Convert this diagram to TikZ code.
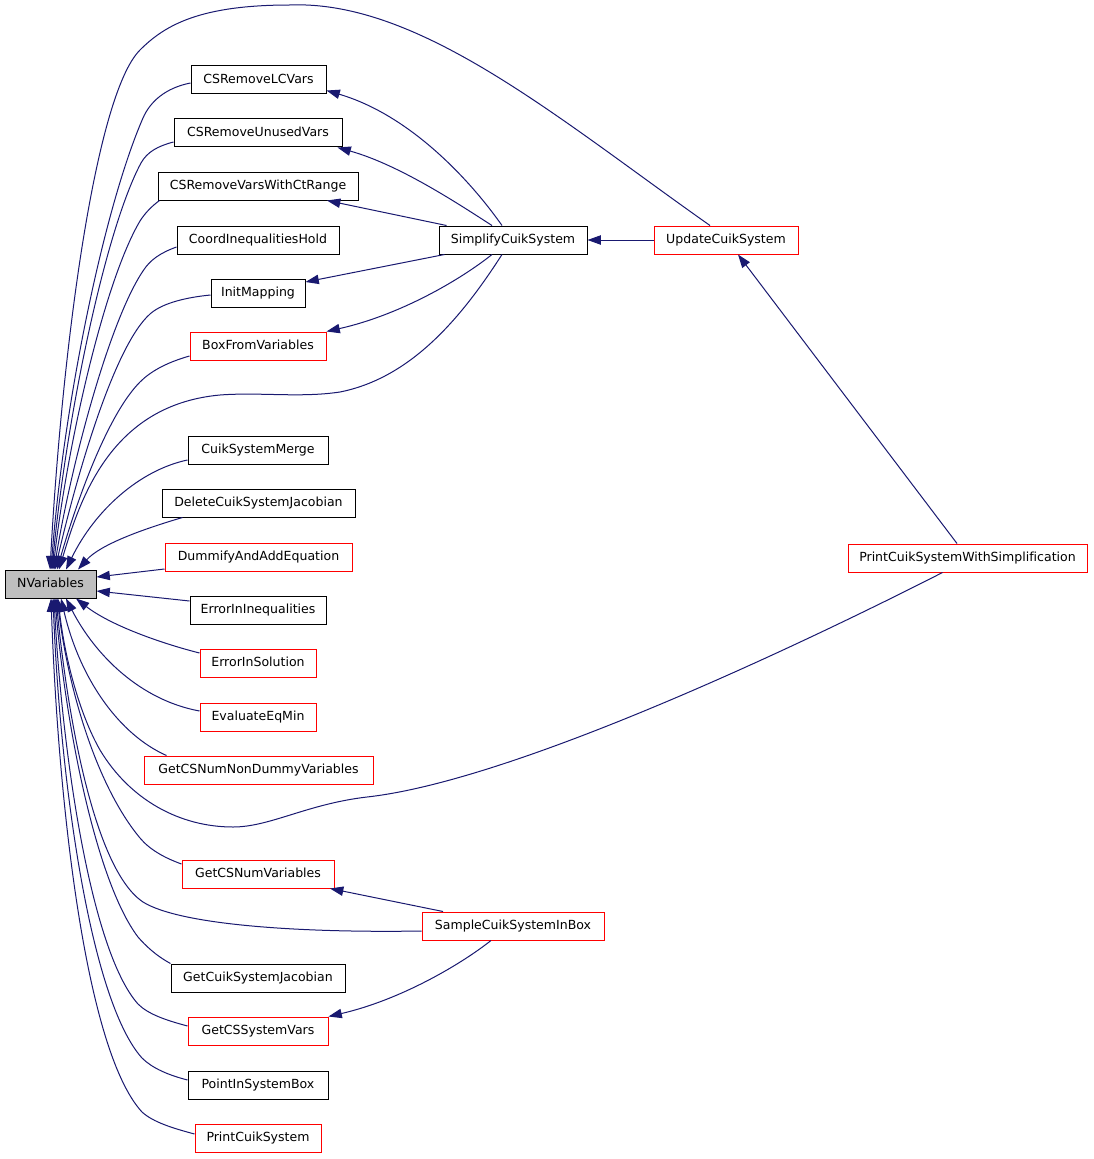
\documentclass[tikz,border=0pt]{standalone}
\usepackage{fontspec}
\newfontfamily\dvs{DejaVu Sans}[Ligatures=NoCommon]
\usetikzlibrary{arrows.meta,calc}
\definecolor{navy}{HTML}{191970}
\definecolor{boxred}{HTML}{FF0000}
\definecolor{hl}{HTML}{BFBFBF}
\tikzset{
  box/.style={draw=black, line width=0.75pt, fill=white, minimum height=21pt, inner sep=0pt,
    font=\dvs\fontsize{9.4}{11}\selectfont, text height=7pt, text depth=2pt},
  redbox/.style={box, draw=boxred},
  bw/.style={minimum width=#1*0.75pt},
  edge/.style={draw=navy, line width=0.75pt, -{Triangle[length=10pt,width=7pt]}, fill=none},
}
\begin{document}
\begin{tikzpicture}[x=0.75pt,y=-0.75pt]
\useasboundingbox[fill=white] (0,0) rectangle (1093,1159);
% nodes
\node[box,fill=hl,bw=91] (NVariables) at (50.5,584) {NVariables};
\node[box,bw=135] (CSRemoveLCVars) at (258.5,80) {CSRemoveLCVars};
\node[box,bw=168] (CSRemoveUnusedVars) at (258,133) {CSRemoveUnusedVars};
\node[box,bw=200] (CSRemoveVarsWithCtRange) at (258,186) {CSRemoveVarsWithCtRange};
\node[box,bw=162] (CoordInequalitiesHold) at (258,240) {CoordInequalitiesHold};
\node[box,bw=94] (InitMapping) at (258,293) {InitMapping};
\node[redbox,bw=136] (BoxFromVariables) at (258,346) {BoxFromVariables};
\node[box,bw=140] (CuikSystemMerge) at (258,450) {CuikSystemMerge};
\node[box,bw=193] (DeleteCuikSystemJacobian) at (258.5,503) {DeleteCuikSystemJacobian};
\node[redbox,bw=187] (DummifyAndAddEquation) at (258.5,557) {DummifyAndAddEquation};
\node[box,bw=136] (ErrorInInequalities) at (258,610) {ErrorInInequalities};
\node[redbox,bw=116] (ErrorInSolution) at (258,663) {ErrorInSolution};
\node[redbox,bw=116] (EvaluateEqMin) at (258,717) {EvaluateEqMin};
\node[redbox,bw=229] (GetCSNumNonDummyVariables) at (258.5,770) {GetCSNumNonDummyVariables};
\node[redbox,bw=152] (GetCSNumVariables) at (258,874) {GetCSNumVariables};
\node[box,bw=174] (GetCuikSystemJacobian) at (258,978) {GetCuikSystemJacobian};
\node[redbox,bw=140] (GetCSSystemVars) at (258,1031) {GetCSSystemVars};
\node[box,bw=140] (PointInSystemBox) at (258,1085) {PointInSystemBox};
\node[redbox,bw=126] (PrintCuikSystem) at (258,1138) {PrintCuikSystem};
\node[box,bw=148] (SimplifyCuikSystem) at (513,240) {SimplifyCuikSystem};
\node[redbox,bw=144] (UpdateCuikSystem) at (726,240) {UpdateCuikSystem};
\node[redbox,bw=239] (PrintCuikSystemWithSimplification) at (967.5,558) {PrintCuikSystemWithSimplification};
\node[redbox,bw=182] (SampleCuikSystemInBox) at (513,926) {SampleCuikSystemInBox};

% upper edges into NVariables
\draw[edge] ($(UpdateCuikSystem.north)+(-16,0)$) .. controls (560,120) and (420,0) .. (290,5)
  .. controls (200,5) and (165,25) .. (140,50) .. controls (95,95) and (62,350) .. ($(NVariables.north)+(-0.5,0)$);
\draw[edge] ($(CSRemoveLCVars.west)+(0,3)$) .. controls (165,88) and (150,102) .. (143,118)
  .. controls (105,205) and (64,400) .. ($(NVariables.north)+(0.5,0)$);
\draw[edge] ($(CSRemoveUnusedVars.west)+(0,9)$) .. controls (158,146) and (147,152) .. (141,163)
  .. controls (105,230) and (66,420) .. ($(NVariables.north)+(1.5,0)$);
\draw[edge] ($(CSRemoveVarsWithCtRange.south west)+(2,0)$) .. controls (152,206) and (145,213) .. (140,221)
  .. controls (105,280) and (68,440) .. ($(NVariables.north)+(2.5,0)$);
\draw[edge] ($(CoordInequalitiesHold.west)+(0,7)$) .. controls (160,253) and (150,260) .. (143,271)
  .. controls (110,320) and (72,460) .. ($(NVariables.north)+(3.5,0)$);
\draw[edge] ($(InitMapping.west)+(0,2)$) .. controls (180,298) and (160,305) .. (150,314)
  .. controls (115,345) and (78,470) .. ($(NVariables.north)+(4.5,0)$);
\draw[edge] ($(BoxFromVariables.west)+(0,10)$) .. controls (165,363) and (150,372) .. (140,382)
  .. controls (110,412) and (80,490) .. ($(NVariables.north)+(6.5,0)$);
\draw[edge] ($(SimplifyCuikSystem.south)+(-11,0)$) .. controls (460,320) and (410,378) .. (340,392)
  .. controls (300,398) and (260,392) .. (220,395) .. controls (110,405) and (80,500) .. ($(NVariables.north)+(8.5,0)$);
\draw[edge] ($(CuikSystemMerge.west)+(0,10)$) .. controls (140,470) and (95,510) .. ($(NVariables.north)+(15.5,0)$);
\draw[edge] ($(DeleteCuikSystemJacobian.south west)+(21,0)$) .. controls (140,530) and (100,545) .. ($(NVariables.north)+(27.5,0)$);
\draw[edge] ($(DummifyAndAddEquation.west)+(0,12)$) -- ($(NVariables.east)+(0,-7)$);
% lower edges into NVariables
\draw[edge] ($(ErrorInInequalities.west)+(0,-9)$) -- ($(NVariables.east)+(0,7)$);
\draw[edge] ($(ErrorInSolution.west)+(0,-10)$) .. controls (160,643) and (110,625) .. ($(NVariables.south)+(25.5,0)$);
\draw[edge] ($(EvaluateEqMin.west)+(0,-6)$) .. controls (140,700) and (95,655) .. ($(NVariables.south)+(15.5,0)$);
\draw[edge] ($(GetCSNumNonDummyVariables.north west)+(23,0)$) .. controls (120,735) and (80,680) .. ($(NVariables.south)+(10.5,0)$);
\draw[edge] ($(PrintCuikSystemWithSimplification.south)+(-25,0)$) .. controls (820,635) and (520,780) .. (367,797)
  .. controls (307,804) and (270,827) .. (233,827) .. controls (180,827) and (130,800) .. (100,750)
  .. controls (80,715) and (65,660) .. ($(NVariables.south)+(7.5,0)$);
\draw[edge] ($(GetCSNumVariables.west)+(0,-10)$) .. controls (165,858) and (150,850) .. (140,838)
  .. controls (100,790) and (70,700) .. ($(NVariables.south)+(6.5,0)$);
\draw[edge] ($(SampleCuikSystemInBox.west)+(0,5)$) .. controls (300,933) and (180,925) .. (143,902)
  .. controls (95,870) and (68,720) .. ($(NVariables.south)+(5.5,0)$);
\draw[edge] (GetCuikSystemJacobian.north west) .. controls (155,955) and (145,945) .. (138,937)
  .. controls (95,880) and (65,720) .. ($(NVariables.south)+(4.5,0)$);
\draw[edge] ($(GetCSSystemVars.west)+(0,-5)$) .. controls (165,1020) and (148,1014) .. (138,1004)
  .. controls (90,950) and (62,750) .. ($(NVariables.south)+(3.5,0)$);
\draw[edge] ($(PointInSystemBox.west)+(0,-5)$) .. controls (168,1075) and (152,1068) .. (142,1058)
  .. controls (90,1000) and (60,780) .. ($(NVariables.south)+(2.5,0)$);
\draw[edge] ($(PrintCuikSystem.west)+(0,-4)$) .. controls (172,1128) and (153,1122) .. (142,1112)
  .. controls (85,1050) and (58,800) .. ($(NVariables.south)+(0.5,0)$);
% SimplifyCuikSystem callees
\draw[edge] ($(SimplifyCuikSystem.north)+(-11,0)$) .. controls (470,180) and (410,115) .. ($(CSRemoveLCVars.south east)+(0,-4)$);
\draw[edge] ($(SimplifyCuikSystem.north)+(-21,0)$) .. controls (460,205) and (400,165) .. ($(CSRemoveUnusedVars.south east)+(-5,0)$);
\draw[edge] ($(SimplifyCuikSystem.north west)+(8,0)$) -- ($(CSRemoveVarsWithCtRange.south)+(69,0)$);
\draw[edge] ($(SimplifyCuikSystem.south west)+(6,0)$) -- ($(InitMapping.east)+(0,-11)$);
\draw[edge] ($(SimplifyCuikSystem.south)+(-21,0)$) .. controls (460,280) and (400,315) .. (BoxFromVariables.north east);
% UpdateCuikSystem
\draw[edge] (UpdateCuikSystem.west) -- (SimplifyCuikSystem.east);
\draw[edge] ($(PrintCuikSystemWithSimplification.north)+(-10.5,0)$) -- ($(UpdateCuikSystem.south)+(12,0)$);
% SampleCuikSystemInBox
\draw[edge] ($(SampleCuikSystemInBox.north)+(-70,0)$) -- ($(GetCSNumVariables.south)+(72,0)$);
\draw[edge] ($(SampleCuikSystemInBox.south)+(-22,0)$) .. controls (460,965) and (400,1000) .. (GetCSSystemVars.north east);
\end{tikzpicture}
\end{document}
